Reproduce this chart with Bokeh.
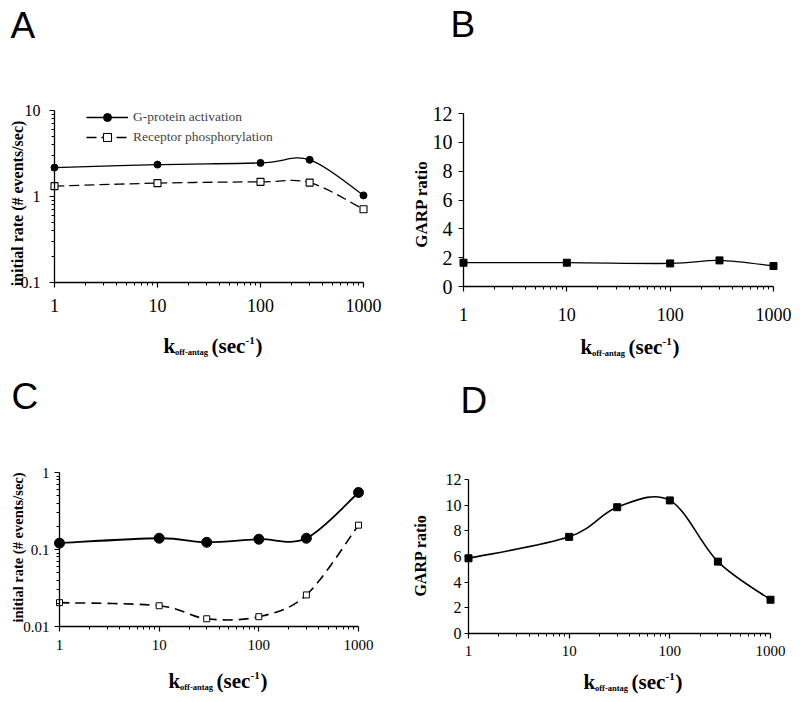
import numpy as np
from bokeh.plotting import figure
from bokeh.models import (FixedTicker, CustomJSTickFormatter, Label, Legend,
                          LegendItem, Range1d, ColumnDataSource)
from bokeh.layouts import row, column
from bokeh.embed import file_html
from bokeh.resources import INLINE

# ---------------- data ----------------
k_off_AB = [1, 10, 100, 300, 1000]
A_gprotein = [2.17, 2.35, 2.46, 2.67, 1.03]
A_receptor = [1.32, 1.43, 1.48, 1.45, 0.71]
B_garp = [1.65, 1.65, 1.60, 1.81, 1.42]

k_off_CD = [1, 10, 30, 100, 300, 1000]
C_gprotein = [0.121, 0.140, 0.124, 0.136, 0.140, 0.55]
C_receptor = [0.0204, 0.0186, 0.0126, 0.0134, 0.0257, 0.207]
D_garp = [5.86, 7.53, 9.84, 10.37, 5.60, 2.63]

x_ticks = [1, 10, 100, 1000]
A_y_ticks = [0.1, 1, 10]
C_y_ticks = [0.01, 0.1, 1]
garp_ticks = [0, 2, 4, 6, 8, 10, 12]

legend_labels = ["G-protein activation", "Receptor phosphorylation"]
panel_letters = ["A", "B", "C", "D"]
y_titles = ["initial rate (# events/sec)", "GARP ratio",
            "initial rate (# events/sec)", "GARP ratio"]

SERIF = "Liberation Serif"
SANS = "Liberation Sans"
ROW1_H = 360
ROW2_H = 340


def minor_log(ticks):
    out = []
    for t in ticks[:-1]:
        out += [t * m for m in range(2, 10)]
    return out


def smooth_source(xs, ys, logy):
    """Bezier segments (Excel-like smoothed line) through the data points."""
    X = np.log10(np.asarray(xs, float))
    Y = np.log10(np.asarray(ys, float)) if logy else np.asarray(ys, float)
    P = np.column_stack([X, Y])
    n = len(P)
    d = {k: [] for k in ("x0", "y0", "x1", "y1", "cx0", "cy0", "cx1", "cy1")}
    for i in range(n - 1):
        p0, p1, p2, p3 = P[max(i - 1, 0)], P[i], P[i + 1], P[min(i + 2, n - 1)]
        c1 = p1 + (p2 - p0) / 6.0
        c2 = p2 - (p3 - p1) / 6.0
        d["x0"].append(p1[0]); d["y0"].append(p1[1])
        d["x1"].append(p2[0]); d["y1"].append(p2[1])
        d["cx0"].append(c1[0]); d["cy0"].append(c1[1])
        d["cx1"].append(c2[0]); d["cy1"].append(c2[1])
    for k in ("x0", "x1", "cx0", "cx1"):
        d[k] = list(10 ** np.array(d[k]))
    if logy:
        for k in ("y0", "y1", "cy0", "cy1"):
            d[k] = list(10 ** np.array(d[k]))
    return ColumnDataSource(d)


def make_panel(px1, px1000, ftop, fbot, colx, rowy, fig_w, fig_h, ylog, yrange,
               yticks, xfs, yfs, xstand, ystand, ytick_out=5):
    """Frame covers the whole figure; axes are pinned at the data origin."""
    dec = (px1000 - px1) / 3.0
    lx0 = -(px1 - colx) / dec
    lx1 = 3 + (colx + fig_w - px1000) / dec
    xr = Range1d(10 ** lx0, 10 ** lx1)
    ymin, ymax = yrange
    if ylog:
        ndec = np.log10(ymax) - np.log10(ymin)
        D = (fbot - ftop) / ndec
        top = np.log10(ymax) + (ftop - rowy) / D
        bot = np.log10(ymin) - (rowy + fig_h - fbot) / D
        yr = Range1d(10 ** bot, 10 ** top)
    else:
        u = (ymax - ymin) / (fbot - ftop)
        yr = Range1d(ymin - (rowy + fig_h - fbot) * u, ymax + (ftop - rowy) * u)
    p = figure(width=fig_w, height=fig_h, x_axis_type="log",
               y_axis_type="log" if ylog else "linear",
               x_range=xr, y_range=yr,
               min_border=0, min_border_left=0, min_border_right=0,
               min_border_top=0, min_border_bottom=0,
               output_backend="svg", toolbar_location=None)
    p.outline_line_color = None
    p.xgrid.grid_line_color = None
    p.ygrid.grid_line_color = None
    p.background_fill_color = "white"
    p.border_fill_color = "white"
    fmt = CustomJSTickFormatter(code="return String(tick);")
    p.xaxis.ticker = FixedTicker(ticks=x_ticks, minor_ticks=minor_log(x_ticks))
    if ylog:
        p.yaxis.ticker = FixedTicker(ticks=yticks, minor_ticks=minor_log(yticks))
    else:
        p.yaxis.ticker = FixedTicker(ticks=yticks, minor_ticks=[])
    for ax in (p.xaxis[0], p.yaxis[0]):
        ax.formatter = fmt
        ax.axis_line_color = "black"
        ax.axis_line_width = 1.3
        ax.major_tick_line_color = "black"
        ax.major_tick_line_width = 1.2
        ax.minor_tick_line_color = "black"
        ax.minor_tick_line_width = 1
        ax.major_tick_in = 0
        ax.minor_tick_in = 0
        ax.minor_tick_out = 3
        ax.major_label_text_font = SERIF
        ax.major_label_text_color = "black"
    p.xaxis.major_tick_out = 5
    p.yaxis.major_tick_out = ytick_out
    p.xaxis.major_label_text_font_size = f"{xfs}px"
    p.yaxis.major_label_text_font_size = f"{yfs}px"
    p.xaxis.major_label_standoff = xstand
    p.yaxis.major_label_standoff = ystand
    p.xaxis.bounds = (1, 1000)
    p.yaxis.bounds = (ymin, ymax)
    p.xaxis.fixed_location = ymin
    p.yaxis.fixed_location = 1
    origin = (colx, rowy + fig_h)  # page coords of the frame's bottom-left
    return p, origin


def lab(p, o, page_x, page_y, text, size, font=SERIF, bold=False,
        angle=0.0, align="left"):
    # page_y is the vertical middle of the text line
    p.add_layout(Label(x=page_x - o[0], y=o[1] - page_y,
                       x_units="screen", y_units="screen", text=text,
                       text_font=font, text_font_size=f"{size}px",
                       text_font_style="bold" if bold else "normal",
                       text_color="black", angle=angle, angle_units="rad",
                       text_align=align, text_baseline="middle"))


def x_title(p, o, x0, base):
    # k_{off-antag} (sec^{-1});  base = alphabetic baseline of main text
    lab(p, o, x0, base - 7, "k", 21, bold=True)
    lab(p, o, x0 + 11.5, base + 2 - 3, "off-antag", 8.5, bold=True)
    lab(p, o, x0 + 48, base - 7, "(sec", 21, bold=True)
    lab(p, o, x0 + 82, base - 8 - 3.7, "-1", 11, bold=True)
    lab(p, o, x0 + 92, base - 7, ")", 21, bold=True)


def bez(p, src, **kw):
    return p.bezier(x0="x0", y0="y0", x1="x1", y1="y1", cx0="cx0", cy0="cy0",
                    cx1="cx1", cy1="cy1", source=src, line_color="black", **kw)


R2 = ROW1_H

# ---------------- panel A ----------------
pA, oA = make_panel(54, 363, 110, 282, 0, 0, 400, ROW1_H, True, (0.1, 10),
                    A_y_ticks, 18, 16, 11, 9)
rA1 = bez(pA, smooth_source(k_off_AB, A_gprotein, True), line_width=1.3)
sA1 = pA.scatter(k_off_AB, A_gprotein, marker="circle", size=7,
                 fill_color="black", line_color="black")
rA2 = bez(pA, smooth_source(k_off_AB, A_receptor, True), line_width=1.3,
          line_dash="10 5")
sA2 = pA.scatter(k_off_AB, A_receptor, marker="square", size=7,
                 fill_color="white", line_color="black", line_width=1.1)
legA = Legend(items=[LegendItem(label=legend_labels[0], renderers=[rA1, sA1]),
                     LegendItem(label=legend_labels[1], renderers=[rA2, sA2])],
              location=(86 - oA[0], oA[1] - 147), padding=0, margin=0, spacing=0,
              glyph_width=42, glyph_height=20, label_height=20, label_standoff=5,
              label_text_font=SERIF, label_text_font_size="13.5px",
              border_line_color=None, background_fill_alpha=0)
pA.add_layout(legA)
lab(pA, oA, 10, 24.5, panel_letters[0], 37, font=SANS)
lab(pA, oA, 17, 203, y_titles[0], 16, bold=True, angle=np.pi / 2, align="center")
x_title(pA, oA, 163, 352)

# ---------------- panel B ----------------
pB, oB = make_panel(463, 773, 113, 286, 400, 0, 392, ROW1_H, False, (0, 12),
                    garp_ticks, 18, 20, 16, 6)
bez(pB, smooth_source(k_off_AB, B_garp, False), line_width=1.3)
pB.scatter(k_off_AB, B_garp, marker="square", size=7,
           fill_color="black", line_color="black")
lab(pB, oB, 450, 24, panel_letters[1], 37, font=SANS)
lab(pB, oB, 421, 203.5, y_titles[1], 17, bold=True, angle=np.pi / 2, align="center")
x_title(pB, oB, 580, 353)

# ---------------- panel C ----------------
pC, oC = make_panel(59, 358, 472, 626, 0, R2, 400, ROW2_H, True, (0.01, 1),
                    C_y_ticks, 15, 15, 8, 5)
bez(pC, smooth_source(k_off_CD, C_gprotein, True), line_width=1.8)
pC.scatter(k_off_CD, C_gprotein, marker="circle", size=10,
           fill_color="black", line_color="black")
bez(pC, smooth_source(k_off_CD, C_receptor, True), line_width=1.6,
    line_dash="10 6")
pC.scatter(k_off_CD, C_receptor, marker="square", size=6,
           fill_color="white", line_color="black", line_width=1)
lab(pC, oC, 11, 395.5, panel_letters[2], 37, font=SANS)
lab(pC, oC, 17.5, 547, y_titles[2], 14.5, bold=True, angle=np.pi / 2, align="center")
x_title(pC, oC, 168, 687)

# ---------------- panel D ----------------
pD, oD = make_panel(468, 770, 479, 633, 400, R2, 392, ROW2_H, False, (0, 12),
                    garp_ticks, 15, 16, 7, 3, ytick_out=4)
bez(pD, smooth_source(k_off_CD, D_garp, False), line_width=1.6)
pD.scatter(k_off_CD, D_garp, marker="square", size=7,
           fill_color="black", line_color="black")
lab(pD, oD, 460, 400, panel_letters[3], 37, font=SANS)
lab(pD, oD, 420, 555, y_titles[3], 16, bold=True, angle=np.pi / 2, align="center")
x_title(pD, oD, 583, 688)

layout = column(row(pA, pB), row(pC, pD))
open("out.html", "w").write(file_html(layout, INLINE))
